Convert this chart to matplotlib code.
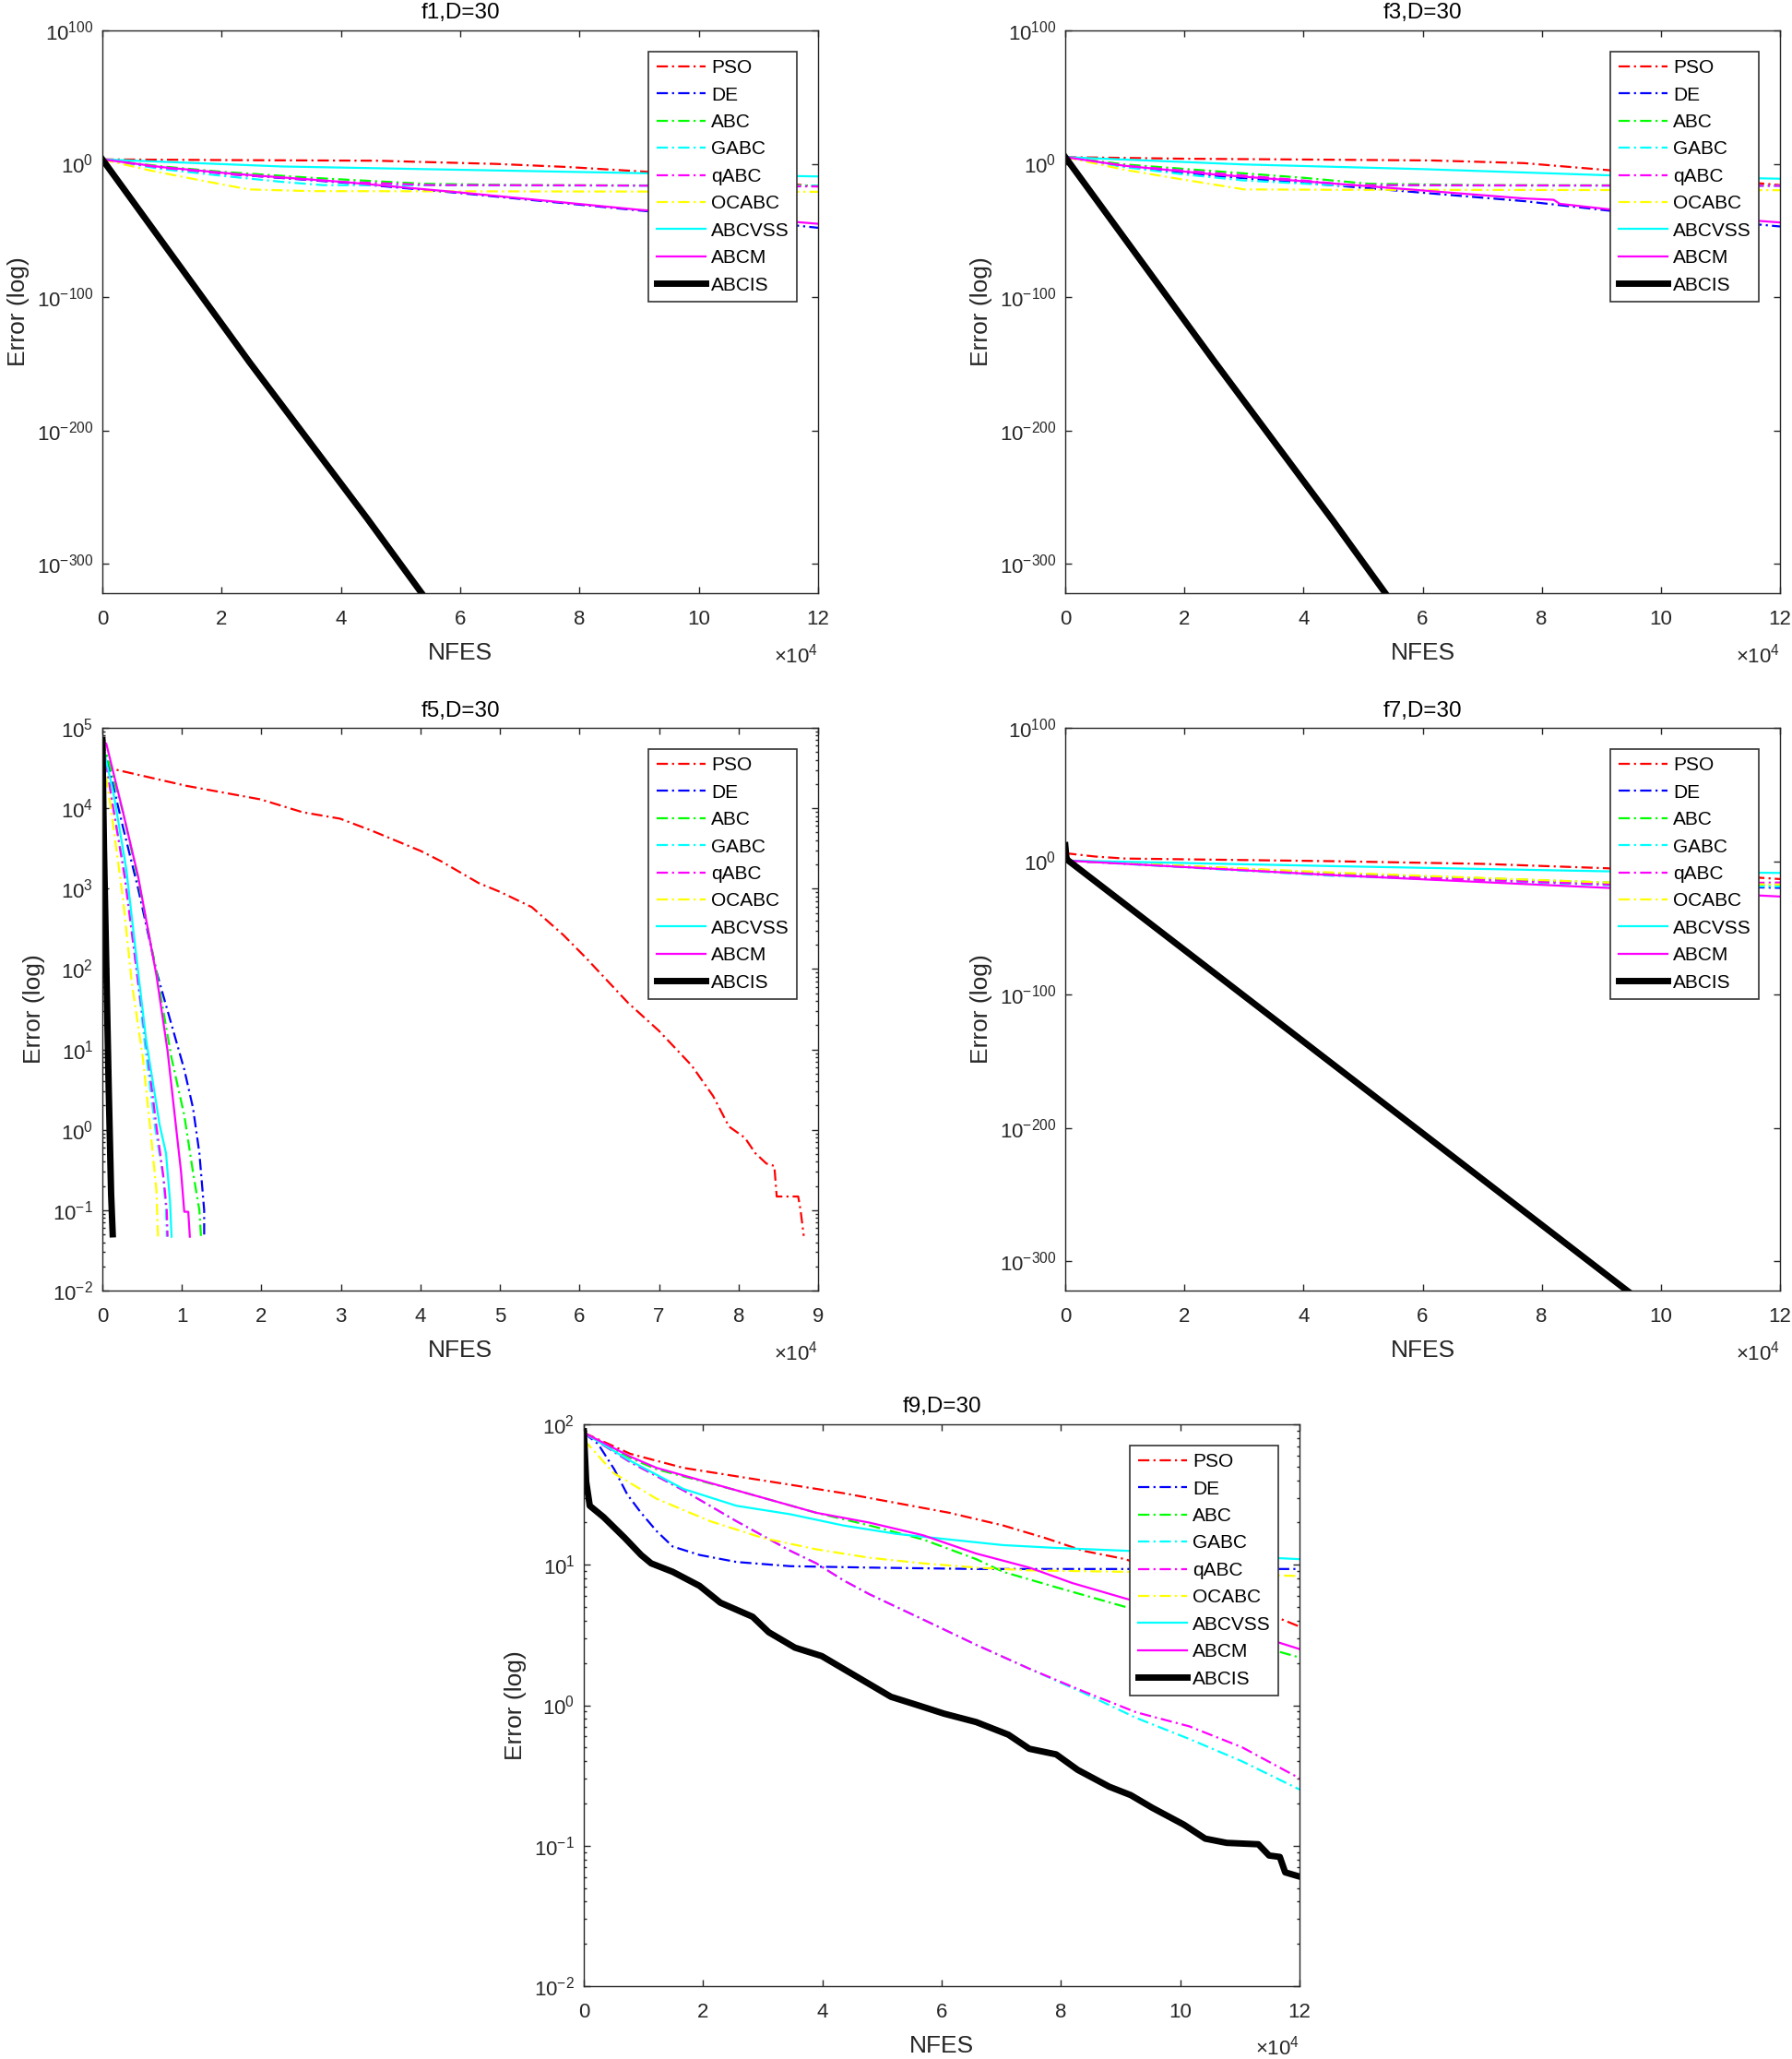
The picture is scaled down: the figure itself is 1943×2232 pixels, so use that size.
import numpy as np
import matplotlib
matplotlib.use("Agg")
import matplotlib.pyplot as plt
from matplotlib.ticker import FixedLocator, LogLocator, NullLocator, LogFormatterSciNotation

plt.rcParams['font.family'] = ['Liberation Sans', 'DejaVu Sans']
plt.rcParams['mathtext.default'] = 'regular'
plt.rcParams['axes.unicode_minus'] = False

### algorithms in legend order
algos = ['PSO', 'DE', 'ABC', 'GABC', 'qABC', 'OCABC', 'ABCVSS', 'ABCM', 'ABCIS']

### all x values are NFES / 1e4, all y values are log10(error)

### f1, D=30
f1_nfes = {
    'PSO':    [0, 2, 4.6, 6.6, 7.8, 9.1, 10.5, 12],
    'DE':     [0, 1, 2.2, 4, 6, 9, 10.5, 12],
    'ABC':    [0, 1, 2, 3.5, 5.4, 7, 12],
    'GABC':   [0, 1, 2, 3, 3.7, 6, 12],
    'qABC':   [0, 1, 2.2, 4, 5.5, 8, 12],
    'OCABC':  [0, 0.8, 1.6, 2.45, 3.5, 12],
    'ABCVSS': [0, 3, 6, 9, 12],
    'ABCM':   [0, 1, 2.2, 4, 6, 9, 10.5, 12],
    'ABCIS':  [0, 2.47, 4.44, 5.37],
}
f1_logerr = {
    'PSO':    [3.3, 2.8, 2.3, -0.1, -2.4, -5.9, -11, -17],
    'DE':     [3.3, -3, -8, -14, -22, -35, -41, -48],
    'ABC':    [3.3, -2, -6, -10.5, -15, -16, -16.5],
    'GABC':   [3.3, -4, -9, -13.5, -16, -16.2, -16.5],
    'qABC':   [3.3, -3, -8, -13.5, -16, -16.2, -17],
    'OCABC':  [3.3, -5, -12, -19.2, -20.5, -21],
    'ABCVSS': [3.3, -2, -4.5, -7, -9.5],
    'ABCM':   [3.3, -2.5, -7.5, -13.5, -21.5, -34.5, -39.5, -45],
    'ABCIS':  [3.3, -149, -266, -323],
}

### f3, D=30
f3_nfes = {
    'PSO':    [0, 2, 4, 6.15, 7.7, 9.1, 10.5, 12],
    'DE':     [0, 1, 2.5, 5, 7.7, 9.1, 10.5, 12],
    'ABC':    [0, 1, 2.5, 4, 5.1, 7, 12],
    'GABC':   [0, 1, 2, 3, 4.56, 7, 12],
    'qABC':   [0, 1, 2.5, 4, 4.8, 7, 12],
    'OCABC':  [0, 1, 2, 3, 4.5, 12],
    'ABCVSS': [0, 3, 6, 9.1, 12],
    'ABCM':   [0, 1, 2.5, 5, 7.7, 8.2, 8.3, 9.1, 10.5, 12],
    'ABCIS':  [0, 2.5, 4.5, 5.39],
}
f3_logerr = {
    'PSO':    [5, 3.8, 3.2, 2.5, 0.5, -4.7, -10, -16],
    'DE':     [5, -2, -9, -18, -28, -35, -41, -47],
    'ABC':    [5, -0.5, -5.5, -10.5, -15, -16, -16.3],
    'GABC':   [5, -2.5, -8, -12.5, -16.2, -16.3, -16.5],
    'qABC':   [5, -1.5, -7, -12.5, -16, -16.2, -16.5],
    'OCABC':  [5, -4.5, -12, -19.2, -19.5, -19.8],
    'ABCVSS': [5, -0.5, -4, -8.6, -11.2],
    'ABCM':   [5, -1.5, -8, -16.5, -26, -27, -30, -34, -39, -44],
    'ABCIS':  [5, -148, -268, -323],
}

### f5, D=30
f5_nfes = {
    'PSO':    [0, 0.08, 1.05, 1.99, 2.52, 2.99, 3.39, 4.0, 4.26, 4.73, 5.0, 5.4, 5.8, 6.07,
               6.61, 7.0, 7.41, 7.68, 7.88, 8.08, 8.21, 8.35, 8.45, 8.48, 8.75, 8.78, 8.82],
    'DE':     [0, 0.26, 0.45, 0.68, 0.80, 1.03, 1.14, 1.22, 1.28, 1.28],
    'ABC':    [0, 0.26, 0.45, 0.68, 0.87, 1.03, 1.14, 1.22, 1.24],
    'GABC':   [0, 0.12, 0.28, 0.40, 0.53, 0.66, 0.76, 0.80, 0.81],
    'qABC':   [0, 0.12, 0.28, 0.45, 0.58, 0.68, 0.77, 0.81, 0.82],
    'OCABC':  [0, 0.10, 0.26, 0.37, 0.51, 0.60, 0.68, 0.70],
    'ABCVSS': [0, 0.14, 0.30, 0.41, 0.55, 0.72, 0.80, 0.85, 0.87],
    'ABCM':   [0, 0.05, 0.26, 0.45, 0.68, 0.82, 0.91, 0.99, 1.03, 1.08, 1.10],
    'ABCIS':  [0, 0.02, 0.05, 0.08, 0.11, 0.13],
}
f5_logerr = {
    'PSO':    [4.85, 4.5, 4.28, 4.11, 3.95, 3.87, 3.72, 3.47, 3.34, 3.07, 2.96, 2.77, 2.42, 2.15,
               1.58, 1.23, 0.8, 0.42, 0.04, -0.10, -0.29, -0.42, -0.45, -0.83, -0.83, -1.0, -1.32],
    'DE':     [4.85, 3.76, 3.0, 1.97, 1.55, 0.75, 0.27, -0.29, -1.0, -1.33],
    'ABC':    [4.85, 3.95, 3.1, 1.97, 0.89, 0.18, -0.53, -1.0, -1.33],
    'GABC':   [4.85, 4.1, 3.2, 2.25, 1.1, 0.05, -0.55, -1.0, -1.33],
    'qABC':   [4.85, 4.1, 3.15, 1.83, 0.85, 0.04, -0.6, -1.0, -1.33],
    'OCABC':  [4.66, 4.05, 2.87, 1.83, 0.89, 0.04, -0.76, -1.33],
    'ABCVSS': [4.8, 4.19, 3.25, 2.30, 1.12, 0.06, -0.29, -0.88, -1.33],
    'ABCM':   [4.85, 4.8, 3.95, 3.15, 1.92, 0.98, 0.18, -0.53, -1.02, -1.02, -1.33],
    'ABCIS':  [4.85, 3.5, 2.0, 0.5, -0.8, -1.3],
}

### f7, D=30
f7_nfes = {
    'PSO':    [0, 0.5, 1, 4.5, 7, 9.1, 10.5, 12],
    'DE':     [0, 4.5, 9.1, 12],
    'ABC':    [0, 4.5, 9.1, 12],
    'GABC':   [0, 4.5, 9.1, 12],
    'qABC':   [0, 4.5, 9.1, 12],
    'OCABC':  [0, 4.5, 9.1, 12],
    'ABCVSS': [0, 4.5, 9.1, 12],
    'ABCM':   [0, 4.5, 9.1, 12],
    'ABCIS':  [0, 0.02, 0.05, 9.46],
}
f7_logerr = {
    'PSO':    [6, 3.5, 2, 0, -2, -5.3, -9, -13.4],
    'DE':     [0.5, -9.5, -17, -20],
    'ABC':    [0.5, -9, -16, -18],
    'GABC':   [0.5, -11, -18, -19],
    'qABC':   [0.5, -10, -17.5, -16],
    'OCABC':  [0.5, -8.5, -16, -17.5],
    'ABCVSS': [0.5, -3.7, -7.6, -8.8],
    'ABCM':   [0.5, -10.5, -20, -26.5],
    'ABCIS':  [12, 2, 0.5, -323],
}

### f9, D=30
f9_nfes = {
    'PSO':    [0, 0.78, 1.67, 2.56, 3.46, 4.35, 5.24, 6.13, 7.03, 7.74, 8.37, 9.08, 10.5, 12],
    'DE':     [0, 0.24, 0.51, 0.73, 0.96, 1.22, 1.49, 1.94, 2.56, 3.46, 4.79, 6.58, 8.37, 12],
    'ABC':    [0, 0.78, 1.22, 2.56, 3.9, 4.79, 5.69, 6.58, 7.03, 7.92, 9.08, 10.5, 12],
    'GABC':   [0, 0.78, 1.67, 2.56, 3.46, 3.9, 4.35, 4.79, 5.69, 6.58, 7.47, 8.37, 9.26, 10.15, 11.04, 12],
    'qABC':   [0, 0.78, 1.67, 2.56, 3.46, 3.9, 4.35, 4.79, 5.69, 6.58, 7.47, 8.37, 9.26, 10.15, 11.04, 12],
    'OCABC':  [0, 0.51, 1.22, 2.12, 3.01, 3.9, 4.79, 5.69, 6.58, 7.47, 9.08, 12],
    'ABCVSS': [0, 0.78, 1.67, 2.56, 3.46, 4.35, 5.24, 6.13, 7.03, 7.92, 9.08, 12],
    'ABCM':   [0, 0.78, 1.22, 2.56, 3.9, 4.79, 5.69, 6.58, 7.47, 8.19, 9.08, 10.5, 12],
    'ABCIS':  [0, 0.04, 0.1, 0.33, 0.69, 0.96, 1.13, 1.49, 1.94, 2.29, 2.83, 3.1, 3.54, 3.99,
               4.35, 4.71, 5.15, 5.6, 6.04, 6.58, 7.12, 7.47, 7.92, 8.28, 8.81, 9.17, 9.53,
               10.06, 10.42, 10.78, 11.31, 11.49, 11.67, 11.76, 12],
}
f9_logerr = {
    'PSO':    [1.94, 1.79, 1.69, 1.63, 1.57, 1.51, 1.44, 1.37, 1.28, 1.19, 1.10, 1.04, 0.82, 0.56],
    'DE':     [1.94, 1.86, 1.68, 1.5, 1.37, 1.24, 1.13, 1.07, 1.02, 0.99, 0.98, 0.97, 0.97, 0.97],
    'ABC':    [1.94, 1.76, 1.68, 1.53, 1.37, 1.28, 1.18, 1.04, 0.95, 0.84, 0.7, 0.52, 0.34],
    'GABC':   [1.94, 1.73, 1.53, 1.31, 1.1, 1.01, 0.89, 0.79, 0.61, 0.43, 0.26, 0.09, -0.09, -0.24, -0.4, -0.6],
    'qABC':   [1.94, 1.73, 1.53, 1.31, 1.1, 1.01, 0.89, 0.79, 0.61, 0.43, 0.26, 0.1, -0.05, -0.15, -0.3, -0.52],
    'OCABC':  [1.89, 1.65, 1.47, 1.31, 1.19, 1.11, 1.05, 1.01, 0.98, 0.96, 0.95, 0.92],
    'ABCVSS': [1.94, 1.74, 1.54, 1.42, 1.36, 1.28, 1.22, 1.18, 1.14, 1.12, 1.1, 1.04],
    'ABCM':   [1.94, 1.77, 1.69, 1.53, 1.37, 1.30, 1.21, 1.08, 0.98, 0.87, 0.76, 0.6, 0.4],
    'ABCIS':  [1.95, 1.59, 1.42, 1.34, 1.19, 1.07, 1.01, 0.95, 0.85, 0.73, 0.63, 0.52, 0.41, 0.35,
               0.26, 0.17, 0.06, 0.0, -0.06, -0.12, -0.21, -0.31, -0.35, -0.46, -0.58, -0.64, -0.73,
               -0.85, -0.95, -0.98, -0.99, -1.07, -1.08, -1.19, -1.22],
}

### line styles (MATLAB-like)
dashdot = (0, (5.5, 2.0, 1.0, 2.0))
colors = {'PSO': '#ff0000', 'DE': '#0000ff', 'ABC': '#00ff00', 'GABC': '#00ffff', 'qABC': '#ff00ff',
          'OCABC': '#ffff00', 'ABCVSS': '#00ffff', 'ABCM': '#ff00ff', 'ABCIS': '#000000'}
styles = {'PSO': dashdot, 'DE': dashdot, 'ABC': dashdot, 'GABC': dashdot, 'qABC': dashdot,
          'OCABC': dashdot, 'ABCVSS': '-', 'ABCM': '-', 'ABCIS': '-'}
widths = {a: 1.6 for a in algos}
widths['ABCIS'] = 5.0

W, H = 1943, 2232
fig = plt.figure(figsize=(W / 100, H / 100), dpi=100)
fig.patch.set_facecolor('white')
grey = '#262626'


def add_ax(left, top, right, bottom):
    '''axes from pixel box'''
    return fig.add_axes([left / W, 1 - bottom / H, (right - left) / W, (bottom - top) / H])


def draw_panel(ax, nfes, logerr, title, xmax, ylim, yticks=None):
    for name in algos:
        x = np.array(nfes[name], dtype=float)
        y = 10.0 ** np.array(logerr[name], dtype=float)
        ax.plot(x, y, color=colors[name], linestyle=styles[name], linewidth=widths[name],
                label=name, solid_joinstyle='round')
    ax.set_yscale('log')
    ax.set_xlim(0, xmax)
    ax.set_ylim(*ylim)
    ax.set_xticks(np.arange(0, xmax + 1, 2 if xmax > 9 else 1))
    if yticks is not None:
        ax.yaxis.set_major_locator(FixedLocator(yticks))
        ax.yaxis.set_minor_locator(NullLocator())
    else:
        ax.yaxis.set_major_locator(LogLocator(base=10, numticks=30))
        ax.yaxis.set_minor_locator(LogLocator(base=10, subs=np.arange(2, 10), numticks=30))
    ax.yaxis.set_major_formatter(LogFormatterSciNotation())
    ax.tick_params(which='both', direction='in', top=True, right=True, color=grey, width=1.0)
    ax.tick_params(which='major', length=5, labelsize=16, labelcolor=grey)
    ax.tick_params(which='minor', length=2.5)
    ax.tick_params(axis='x', pad=13)
    ax.tick_params(axis='y', pad=7)
    for s in ax.spines.values():
        s.set_color(grey)
        s.set_linewidth(1.0)
    ax.set_title(title, fontsize=17.5, pad=9)
    ax.set_xlabel('NFES', fontsize=19, color=grey, labelpad=10)
    ax.set_ylabel('Error (log)', fontsize=19, color=grey, labelpad=6)
    ax.text(1.0, -0.11, r'$\times\mathdefault{10^{4}}$', transform=ax.transAxes,
            ha='right', va='center', fontsize=16, color=grey)
    leg = ax.legend(loc='upper right', fontsize=15, borderaxespad=1.1, fancybox=False,
                    edgecolor='#333333', framealpha=1, handlelength=2.55, handletextpad=0.3,
                    labelspacing=0.5, borderpad=0.4)
    leg.get_frame().set_linewidth(1.2)


big_ticks = [1e100, 1, 1e-100, 1e-200, 1e-300]
big_lim = (1e-322, 1e100)

ax1 = add_ax(111, 33, 887, 643)
draw_panel(ax1, f1_nfes, f1_logerr, 'f1,D=30', 12, big_lim, big_ticks)

ax3 = add_ax(1155, 33, 1930, 643)
draw_panel(ax3, f3_nfes, f3_logerr, 'f3,D=30', 12, big_lim, big_ticks)

ax5 = add_ax(111, 789, 887, 1399)
draw_panel(ax5, f5_nfes, f5_logerr, 'f5,D=30', 9, (1e-2, 1e5))

ax7 = add_ax(1155, 789, 1930, 1399)
draw_panel(ax7, f7_nfes, f7_logerr, 'f7,D=30', 12, big_lim, big_ticks)

ax9 = add_ax(633, 1544, 1409, 2153)
draw_panel(ax9, f9_nfes, f9_logerr, 'f9,D=30', 12, (1e-2, 1e2))

fig.savefig('out.png', dpi=100, facecolor='white')
